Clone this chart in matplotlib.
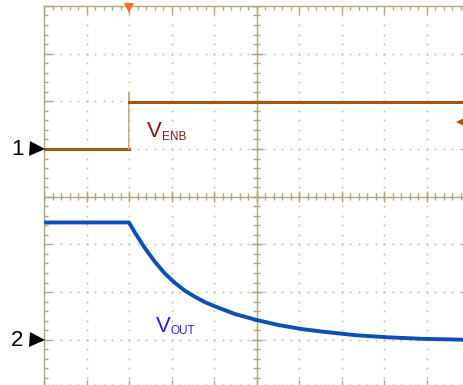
import numpy as np
import matplotlib.pyplot as plt
from matplotlib.ticker import MultipleLocator

plt.rcParams["font.family"] = ["Liberation Sans", "DejaVu Sans"]

# scope screen is 10 x 8 divisions, values below are in divisions
# channel 1: enable signal (low level, edge with small spike, high level)
enb_t = [0.0, 1.99, 1.99, 2.0, 10.0]
enb_v = [1.0, 1.0, 2.18, 1.98, 1.98]

# channel 2: output voltage discharging after the enable edge
vout_t = [0.0, 1.995, 2.14, 2.37, 2.61, 2.84, 3.08, 3.31, 3.55, 3.78, 4.02,
          4.49, 5.0, 5.51, 6.06, 6.56, 7.34, 8.14, 8.91, 10.0]
vout_v = [-0.54, -0.54, -0.76, -1.08, -1.37, -1.61, -1.81, -1.97, -2.10, -2.21, -2.30,
          -2.46, -2.585, -2.69, -2.775, -2.83, -2.905, -2.95, -2.98, -3.0]

# channel ground markers and trigger
ch_levels = [1.0, -3.0]
ch_names = ["1", "2"]
trig_time = 2.0
trig_level = 1.57

grid_col = "#b0a67e"
dot_col = "#c4bc9c"
enb_col = "#a8560c"
vout_col = "#0d4fb4"

fig = plt.figure(figsize=(4.63, 3.85), dpi=100)
# full 10x8 div screen, right and bottom edges fall just outside the picture
ax = fig.add_axes([44.2 / 463, -0.0065, 425 / 463, 0.9912])
ax.set_xlim(0, 10)
ax.set_ylim(-4, 4)

for s in ax.spines.values():
    s.set_color(grid_col)
    s.set_linewidth(1.0)

ax.xaxis.set_major_locator(MultipleLocator(1))
ax.xaxis.set_minor_locator(MultipleLocator(0.2))
ax.yaxis.set_major_locator(MultipleLocator(1))
ax.yaxis.set_minor_locator(MultipleLocator(0.2))
ax.tick_params(which="both", direction="in", top=True, bottom=True,
               left=True, right=True, color=grid_col,
               labelbottom=False, labelleft=False, width=1.0)
ax.tick_params(which="major", length=5.5)
ax.tick_params(which="minor", length=3)

# dotted grid
minor = np.arange(0, 10.01, 0.2)
minor_y = np.arange(-4, 4.01, 0.2)
for gx in [1, 2, 3, 4, 6, 7, 8, 9]:
    ax.plot(np.full_like(minor_y, gx), minor_y, ls="", marker="s",
            ms=1.2, mew=0, color=dot_col, zorder=1)
for gy in [-3, -2, -1, 1, 2, 3]:
    ax.plot(minor, np.full_like(minor, gy), ls="", marker="s",
            ms=1.2, mew=0, color=dot_col, zorder=1)

# centre cross with ticks
ax.axhline(0, color=grid_col, lw=1.0, zorder=1)
ax.axvline(5, color=grid_col, lw=1.0, zorder=1)
ax.vlines(minor, -0.075, 0.075, color=grid_col, lw=1.0, zorder=1)
ax.hlines(minor_y, 5 - 0.085, 5 + 0.085, color=grid_col, lw=1.0, zorder=1)
ax.vlines(np.arange(0, 11), -0.12, 0.12, color=grid_col, lw=1.0, zorder=1)
ax.hlines(np.arange(-4, 5), 5 - 0.14, 5 + 0.14, color=grid_col, lw=1.0, zorder=1)

# traces
ax.plot(enb_t[:2], enb_v[:2], color=enb_col, lw=2.2, zorder=3)
ax.plot(enb_t[1:4], enb_v[1:4], color="#d6a77a", lw=1.1, zorder=3)
ax.plot(enb_t[3:], enb_v[3:], color=enb_col, lw=2.2, zorder=3)
ax.plot(vout_t, vout_v, color=vout_col, lw=2.8, zorder=3,
        solid_capstyle="butt", solid_joinstyle="round")

# labels
ax.text(2.42, 1.25, "V", color="#8c1616", fontsize=16, va="baseline")
ax.text(2.77, 1.19, "ENB", color="#8c1616", fontsize=8.5, va="baseline")
ax.text(2.63, -2.83, "V", color="#2525e6", fontsize=16, va="baseline")
ax.text(2.97, -2.88, "OUT", color="#2525e6", fontsize=8.5, va="baseline")

# channel ground markers on the left
for lvl, name in zip(ch_levels, ch_names):
    ax.plot(-0.175, lvl, marker=">", ms=10.8, mew=0, color="black",
            clip_on=False, zorder=5)
    ax.text(-0.64, lvl - 0.02, name, fontsize=16, ha="center", va="center",
            color="black", clip_on=False)

# trigger position and level markers
ax.plot(trig_time, 3.95, marker="v", ms=7, mew=0, color="#ff6a1f",
        clip_on=False, zorder=5)
ax.plot(9.78, trig_level, marker="<", ms=5.5, mew=0, color=enb_col,
        clip_on=False, zorder=5)
ax.plot([9.78, 9.9], [trig_level, trig_level], color=enb_col, lw=1.4,
        clip_on=False, zorder=5)

fig.savefig("out.png", dpi=100)
